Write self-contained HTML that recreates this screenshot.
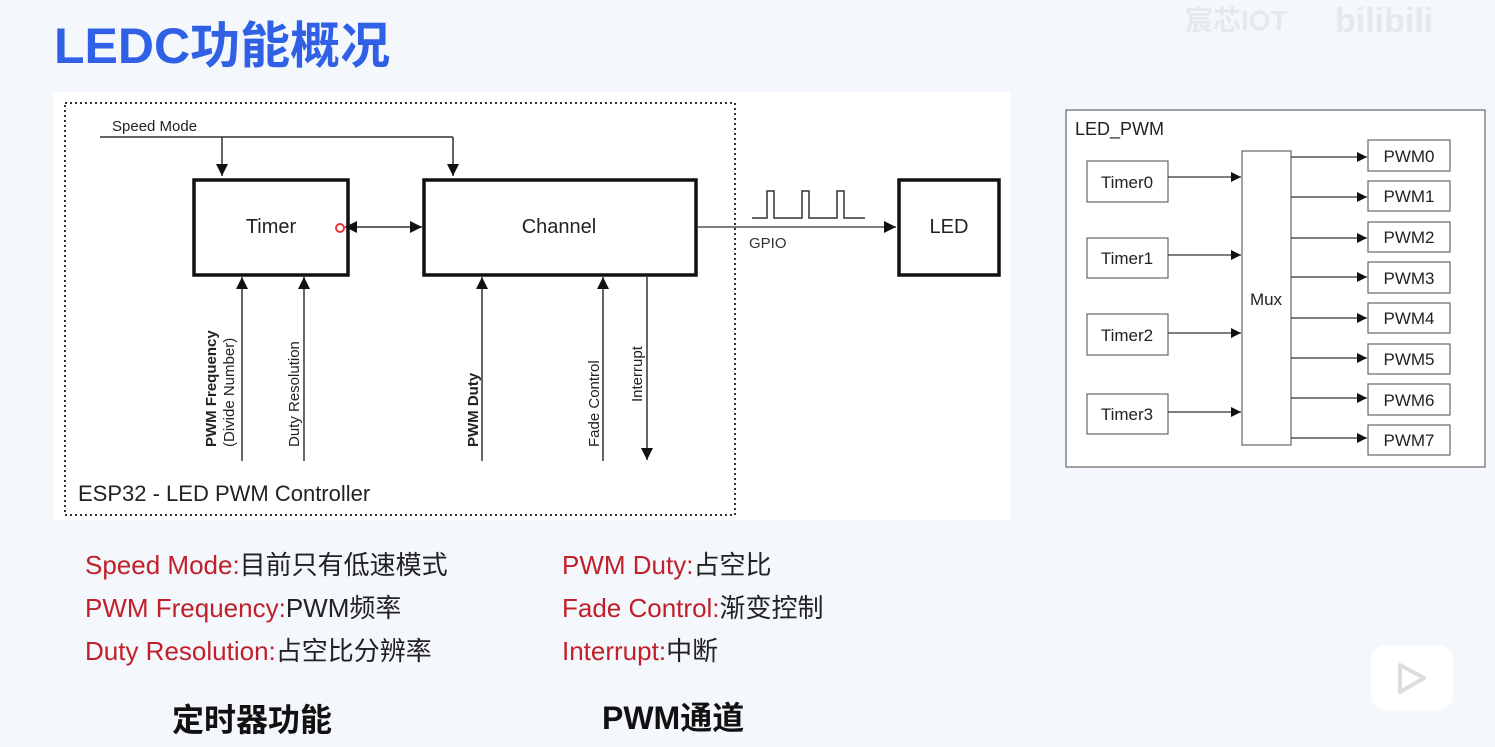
<!DOCTYPE html>
<html><head><meta charset="utf-8"><style>
html,body{margin:0;padding:0;background:#f4f7fb;}
svg{display:block;}
text{font-family:"Liberation Sans","Noto Sans CJK SC",sans-serif;}
</style></head><body>
<svg width="1495" height="747" viewBox="0 0 1495 747" xmlns="http://www.w3.org/2000/svg">
<defs>
<marker id="a" viewBox="0 0 10 10" refX="10" refY="5" markerWidth="14" markerHeight="10" orient="auto-start-reverse" markerUnits="userSpaceOnUse"><path d="M0,0 L10,5 L0,10 z" fill="#111"/></marker>
<marker id="b" viewBox="0 0 10 10" refX="10" refY="5" markerWidth="14" markerHeight="10" orient="auto-start-reverse" markerUnits="userSpaceOnUse"><path d="M0,0 L10,5 L0,10 z" fill="#111"/></marker>
<marker id="c" viewBox="0 0 10 10" refX="10" refY="5" markerWidth="16" markerHeight="12" orient="auto-start-reverse" markerUnits="userSpaceOnUse"><path d="M0,0 L10,5 L0,10 z" fill="#111"/></marker>
</defs>
<rect width="1495" height="747" fill="#f4f7fb"/>
<text x="1185" y="30" font-size="28" font-weight="bold" fill="#e6e8ec">宸芯IOT</text>
<text x="1335" y="32" font-size="34" font-weight="bold" fill="#e6e8ec">bilibili</text>
<text x="54" y="63" font-size="50" font-weight="bold" fill="#2f60e6">LEDC功能概况</text>

<!-- left diagram -->
<rect x="53" y="92" width="957" height="428" fill="#fff"/>
<rect x="65" y="103" width="670" height="412" fill="none" stroke="#333" stroke-width="2" stroke-dasharray="2,3"/>
<text x="112" y="131" font-size="15" fill="#222">Speed Mode</text>
<polyline points="100,137 453,137" fill="none" stroke="#333" stroke-width="1.5"/>
<line x1="222" y1="137" x2="222" y2="176" stroke="#333" stroke-width="1.5" marker-end="url(#c)"/>
<line x1="453" y1="137" x2="453" y2="176" stroke="#333" stroke-width="1.5" marker-end="url(#c)"/>
<rect x="194" y="180" width="154" height="95" fill="none" stroke="#111" stroke-width="3.5"/>
<rect x="424" y="180" width="272" height="95" fill="none" stroke="#111" stroke-width="3.5"/>
<text x="271" y="233" font-size="20" text-anchor="middle" fill="#222">Timer</text>
<text x="559" y="233" font-size="20" text-anchor="middle" fill="#222">Channel</text>
<line x1="345" y1="227" x2="422" y2="227" stroke="#333" stroke-width="1.5" marker-start="url(#c)" marker-end="url(#c)"/>
<circle cx="340" cy="228" r="4" fill="#fff" stroke="#e33" stroke-width="2"/>
<line x1="698" y1="227" x2="896" y2="227" stroke="#555" stroke-width="1.5" marker-end="url(#c)"/>
<polyline points="752,218 767,218 767,191 774,191 774,218 802,218 802,191 809,191 809,218 837,218 837,191 844,191 844,218 865,218" fill="none" stroke="#333" stroke-width="1.5"/>
<text x="749" y="248" font-size="15" fill="#333">GPIO</text>
<rect x="899" y="180" width="100" height="95" fill="none" stroke="#111" stroke-width="3.5"/>
<text x="949" y="233" font-size="20" text-anchor="middle" fill="#222">LED</text>
<line x1="242" y1="461" x2="242" y2="277" stroke="#333" stroke-width="1.5" marker-end="url(#c)"/>
<line x1="304" y1="461" x2="304" y2="277" stroke="#333" stroke-width="1.5" marker-end="url(#c)"/>
<line x1="482" y1="461" x2="482" y2="277" stroke="#333" stroke-width="1.5" marker-end="url(#c)"/>
<line x1="603" y1="461" x2="603" y2="277" stroke="#333" stroke-width="1.5" marker-end="url(#c)"/>
<line x1="647" y1="277" x2="647" y2="460" stroke="#333" stroke-width="1.5" marker-end="url(#c)"/>
<text transform="translate(216,447) rotate(-90)" font-size="15" font-weight="bold" fill="#222">PWM Frequency</text>
<text transform="translate(234,447) rotate(-90)" font-size="15" fill="#222">(Divide Number)</text>
<text transform="translate(299,447) rotate(-90)" font-size="15" fill="#222">Duty Resolution</text>
<text transform="translate(478,447) rotate(-90)" font-size="15" font-weight="bold" fill="#222">PWM Duty</text>
<text transform="translate(599,447) rotate(-90)" font-size="15" fill="#222">Fade Control</text>
<text transform="translate(642,402) rotate(-90)" font-size="15" fill="#222">Interrupt</text>
<text x="78" y="501" font-size="22" fill="#222">ESP32 - LED PWM Controller</text>

<!-- right diagram -->
<rect x="1066" y="110" width="419" height="357" fill="#fff" stroke="#666" stroke-width="1.2"/>
<text x="1075" y="135" font-size="18" fill="#222">LED_PWM</text>
<g fill="#fff" stroke="#666" stroke-width="1.2">
<rect x="1087" y="161" width="81" height="41"/>
<rect x="1087" y="238" width="81" height="40"/>
<rect x="1087" y="314" width="81" height="41"/>
<rect x="1087" y="394" width="81" height="40"/>
<rect x="1242" y="151" width="49" height="294"/>
<rect x="1368" y="140" width="82" height="31"/>
<rect x="1368" y="181" width="82" height="30"/>
<rect x="1368" y="222" width="82" height="30"/>
<rect x="1368" y="262" width="82" height="31"/>
<rect x="1368" y="303" width="82" height="30"/>
<rect x="1368" y="344" width="82" height="30"/>
<rect x="1368" y="384" width="82" height="31"/>
<rect x="1368" y="425" width="82" height="30"/>
</g>
<g font-size="17" fill="#222" text-anchor="middle">
<text x="1127" y="188">Timer0</text>
<text x="1127" y="264">Timer1</text>
<text x="1127" y="341">Timer2</text>
<text x="1127" y="420">Timer3</text>
<text x="1266" y="305">Mux</text>
<text x="1409" y="162">PWM0</text>
<text x="1409" y="202">PWM1</text>
<text x="1409" y="243">PWM2</text>
<text x="1409" y="284">PWM3</text>
<text x="1409" y="324">PWM4</text>
<text x="1409" y="365">PWM5</text>
<text x="1409" y="406">PWM6</text>
<text x="1409" y="446">PWM7</text>
</g>
<g stroke="#333" stroke-width="1.2">
<line x1="1168" y1="177" x2="1241" y2="177" marker-end="url(#b)"/>
<line x1="1168" y1="255" x2="1241" y2="255" marker-end="url(#b)"/>
<line x1="1168" y1="333" x2="1241" y2="333" marker-end="url(#b)"/>
<line x1="1168" y1="412" x2="1241" y2="412" marker-end="url(#b)"/>
<line x1="1291" y1="157" x2="1367" y2="157" marker-end="url(#b)"/>
<line x1="1291" y1="197" x2="1367" y2="197" marker-end="url(#b)"/>
<line x1="1291" y1="238" x2="1367" y2="238" marker-end="url(#b)"/>
<line x1="1291" y1="277" x2="1367" y2="277" marker-end="url(#b)"/>
<line x1="1291" y1="318" x2="1367" y2="318" marker-end="url(#b)"/>
<line x1="1291" y1="358" x2="1367" y2="358" marker-end="url(#b)"/>
<line x1="1291" y1="398" x2="1367" y2="398" marker-end="url(#b)"/>
<line x1="1291" y1="438" x2="1367" y2="438" marker-end="url(#b)"/>
</g>

<!-- legend -->
<g font-size="26">
<text x="85" y="574"><tspan fill="#c0202a">Speed Mode:</tspan><tspan fill="#222">目前只有低速模式</tspan></text>
<text x="85" y="617"><tspan fill="#c0202a">PWM Frequency:</tspan><tspan fill="#222">PWM频率</tspan></text>
<text x="85" y="660"><tspan fill="#c0202a">Duty Resolution:</tspan><tspan fill="#222">占空比分辨率</tspan></text>
<text x="562" y="574"><tspan fill="#c0202a">PWM Duty:</tspan><tspan fill="#222">占空比</tspan></text>
<text x="562" y="617"><tspan fill="#c0202a">Fade Control:</tspan><tspan fill="#222">渐变控制</tspan></text>
<text x="562" y="660"><tspan fill="#c0202a">Interrupt:</tspan><tspan fill="#222">中断</tspan></text>
</g>
<text x="172" y="731" font-size="32" font-weight="bold" fill="#111">定时器功能</text>
<text x="602" y="729" font-size="32" font-weight="bold" fill="#111">PWM通道</text>
<!-- tv icon -->
<rect x="1371" y="645" width="82" height="65" rx="14" fill="#fff"/>
<path d="M1400,665 L1424,678 L1400,692 z" fill="none" stroke="#ddd" stroke-width="4" stroke-linejoin="round"/>
</svg>
</body></html>
